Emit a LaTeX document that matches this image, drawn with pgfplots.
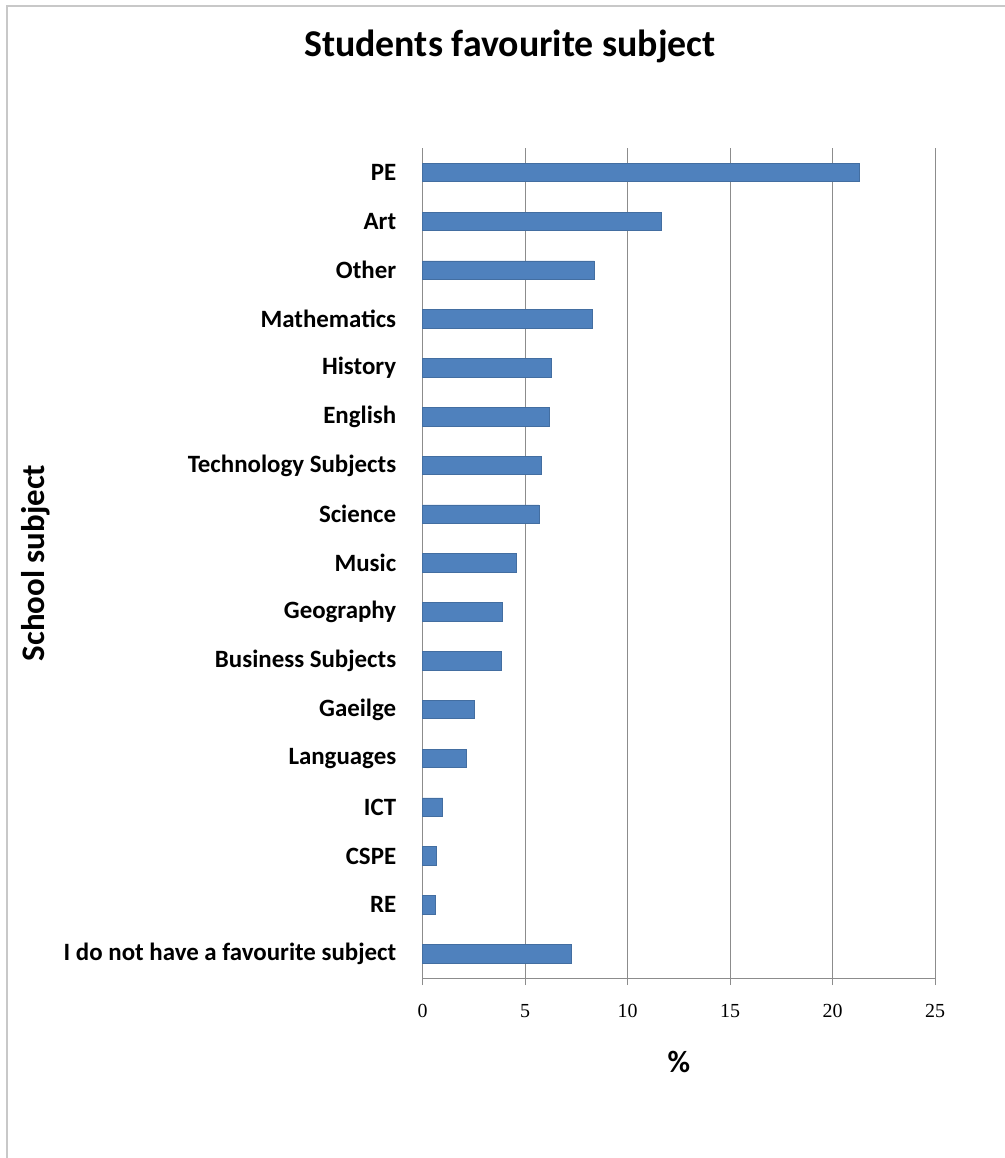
\documentclass[border=0pt]{standalone}
\usepackage{pgfplots}
\pgfplotsset{compat=1.18}
\usepackage{fontspec}
\setmainfont{Carlito}
\newfontfamily\tickfont{Liberation Serif}
\definecolor{barblue}{HTML}{4F81BD}
\definecolor{gridgray}{HTML}{8C8C8C}
\definecolor{framegray}{HTML}{C8C8C8}
\begin{document}
\begin{tikzpicture}[x=1bp,y=1bp]
\useasboundingbox (0,0) rectangle (1005,-1158);
\draw[framegray,line width=2bp] (7,-1158) -- (7,-6) -- (1005,-6);
\node[font=\fontsize{38}{44}\selectfont\bfseries] at (510,-46) {Students favourite subject};
\node[font=\fontsize{33}{38}\selectfont\bfseries,rotate=90] at (36,-563) {School subject};
\node[font=\fontsize{31}{36}\selectfont\bfseries] at (679,-1062) {\%};
\begin{axis}[
  at={(422.7bp,-978bp)}, anchor=south west,
  scale only axis, width=512.3bp, height=830bp,
  xmin=0, xmax=25, ymin=-0.5, ymax=16.5, y dir=reverse,
  xbar, bar width=18.5bp,
  axis x line*=bottom, axis y line*=left,
  axis line style={gridgray, line width=1bp},
  xtick={0,5,...,25},
  xmajorgrids, major grid style={gridgray, line width=1bp},
  x tick style={gridgray, line width=1bp},
  major tick length=7bp,
  xtick pos=bottom, xtick align=outside,
  y tick style={draw=none},
  xticklabel style={font=\fontsize{20}{22}\selectfont\tickfont, yshift=-16bp},
  /pgf/number format/assume math mode=true,
  ytick={0,...,16},
  yticklabels={PE,Art,Other,Mathematics,History,English,Technology Subjects,Science,Music,Geography,Business Subjects,Gaeilge,Languages,ICT,CSPE,RE,I do not have a favourite subject},
  yticklabel style={font=\fontsize{25}{30}\selectfont\bfseries, xshift=-16bp},
  clip=false,
]
\addplot[fill=barblue, draw=barblue!85!black, line width=0.6bp] coordinates {
(21.3,0) (11.65,1) (8.38,2) (8.28,3) (6.29,4) (6.2,5) (5.78,6) (5.67,7) (4.56,8) (3.89,9) (3.82,10) (2.51,11) (2.15,12) (0.98,13) (0.65,14) (0.62,15) (7.26,16)
};
\end{axis}
\end{tikzpicture}
\end{document}
